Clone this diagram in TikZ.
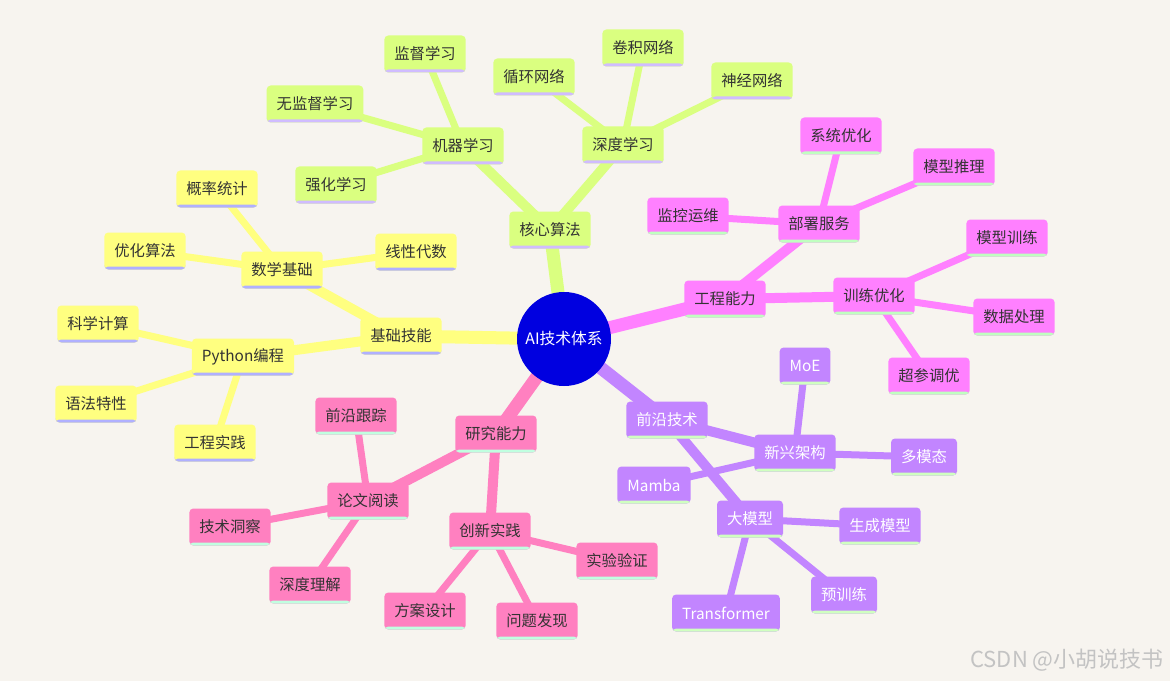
\documentclass[tikz,border=0pt]{standalone}
\usepackage{fontspec}
\setmainfont{Noto Sans CJK SC}
\definecolor{bgcream}{RGB}{247, 244, 239}
\definecolor{rootblue}{RGB}{0, 0, 224}
\definecolor{algogreen}{RGB}{218, 255, 128}
\definecolor{algoline}{RGB}{208, 188, 255}
\definecolor{skillyellow}{RGB}{255, 255, 128}
\definecolor{skillline}{RGB}{176, 176, 255}
\definecolor{engpink}{RGB}{255, 128, 255}
\definecolor{engline}{RGB}{192, 255, 192}
\definecolor{frontpurple}{RGB}{194, 133, 255}
\definecolor{frontline}{RGB}{208, 255, 192}
\definecolor{resrose}{RGB}{255, 128, 192}
\definecolor{resline}{RGB}{192, 255, 224}
\definecolor{inkgray}{RGB}{51, 51, 51}
\definecolor{markgray}{RGB}{195, 195, 195}
\usepackage{tikz}
\usetikzlibrary{backgrounds}

\begin{document}
\begin{tikzpicture}[x=0.75pt, y=-0.75pt,
  mapbox/.style 2 args={rectangle, rounded corners=3pt, fill=#1, text=inkgray,
    font=\fontsize{11.5}{13}\selectfont, inner xsep=7.5pt, inner ysep=0pt,
    minimum height=27.75pt,
    path picture={\fill[#2] (path picture bounding box.south west)
      rectangle ([yshift=2.25pt]path picture bounding box.south east);}},
  algobox/.style={mapbox={algogreen}{algoline}},
  skillbox/.style={mapbox={skillyellow}{skillline}},
  engbox/.style={mapbox={engpink}{engline}},
  frontbox/.style={mapbox={frontpurple}{frontline}, text=white},
  resbox/.style={mapbox={resrose}{resline}},
  trunk/.style={line width=9.75pt},
  limb/.style={line width=7.5pt},
  twig/.style={line width=5.25pt}]

  \useasboundingbox (0, 0) rectangle (1170, 681);

  % Root
  \node[circle, fill=rootblue, minimum size=70.5pt, inner sep=0pt, text=white,
    font=\fontsize{11.8}{13}\selectfont] (root) at (564, 339) {AI技术体系};

  % TOP: Core algorithms
  \node[algobox] (core) at (550, 230) {核心算法};
  \node[algobox] (ml) at (463, 146) {机器学习};
  \node[algobox] (dl) at (623, 145) {深度学习};
  \node[algobox] (supl) at (425, 54) {监督学习};
  \node[algobox] (unsup) at (315, 104) {无监督学习};
  \node[algobox] (rl) at (336, 185) {强化学习};
  \node[algobox] (rnn) at (534, 77) {循环网络};
  \node[algobox] (cnn) at (643, 48) {卷积网络};
  \node[algobox] (nn) at (752, 81) {神经网络};

  % LEFT: Basic skills
  \node[skillbox] (skill) at (401, 336) {基础技能};
  \node[skillbox] (math) at (282, 270) {数学基础};
  \node[skillbox] (py) at (243, 357) {Python编程};
  \node[skillbox] (prob) at (217, 189) {概率统计};
  \node[skillbox] (opt) at (145, 251) {优化算法};
  \node[skillbox] (linalg) at (416, 252) {线性代数};
  \node[skillbox] (sci) at (98, 324) {科学计算};
  \node[skillbox] (syn) at (96, 404) {语法特性};
  \node[skillbox] (prac) at (215, 443) {工程实践};

  % RIGHT: Engineering
  \node[engbox] (eng) at (725, 299) {工程能力};
  \node[engbox] (deploy) at (819, 224) {部署服务};
  \node[engbox] (train) at (874, 296) {训练优化};
  \node[engbox] (sysopt) at (841, 136) {系统优化};
  \node[engbox] (infer) at (954, 167) {模型推理};
  \node[engbox] (monitor) at (688, 216) {监控运维};
  \node[engbox] (mtrain) at (1007, 238) {模型训练};
  \node[engbox] (data) at (1014, 317) {数据处理};
  \node[engbox] (hyper) at (929, 376) {超参调优};

  % BOTTOM RIGHT: Frontier
  \node[frontbox] (front) at (667, 420) {前沿技术};
  \node[frontbox] (arch) at (795, 453) {新兴架构};
  \node[frontbox] (llm) at (750, 519) {大模型};
  \node[frontbox] (moe) at (805, 366) {MoE};
  \node[frontbox] (mm) at (924, 457) {多模态};
  \node[frontbox] (mamba) at (654, 485) {Mamba};
  \node[frontbox] (gen) at (880, 526) {生成模型};
  \node[frontbox] (pretr) at (844, 595) {预训练};
  \node[frontbox] (trans) at (726, 613) {Transformer};

  % BOTTOM LEFT: Research
  \node[resbox] (research) at (496, 434) {研究能力};
  \node[resbox] (paper) at (368, 501) {论文阅读};
  \node[resbox] (innov) at (490, 531) {创新实践};
  \node[resbox] (track) at (356, 416) {前沿跟踪};
  \node[resbox] (insight) at (230, 527) {技术洞察};
  \node[resbox] (deep) at (310, 585) {深度理解};
  \node[resbox] (plan) at (425, 611) {方案设计};
  \node[resbox] (issue) at (537, 621) {问题发现};
  \node[resbox] (verify) at (617, 561) {实验验证};

  \node[text=markgray, font=\fontsize{16.5}{18}\selectfont] (mark) at (1067, 660) {CSDN @小胡说技书};

  \begin{pgfonlayer}{background}
    \fill[bgcream] (0, 0) rectangle (1170, 681);

    % Branches
    \draw[trunk, algogreen] (root.center) -- (core.center);
    \draw[trunk, skillyellow] (root.center) -- (skill.center);
    \draw[trunk, engpink] (root.center) -- (eng.center);
    \draw[trunk, frontpurple] (root.center) -- (front.center);
    \draw[trunk, resrose] (root.center) -- (research.center);

    \draw[limb, algogreen] (core.center) -- (ml.center);
    \draw[limb, algogreen] (core.center) -- (dl.center);
    \draw[limb, skillyellow] (skill.center) -- (math.center);
    \draw[limb, skillyellow] (skill.center) -- (py.center);
    \draw[limb, engpink] (eng.center) -- (deploy.center);
    \draw[limb, engpink] (eng.center) -- (train.center);
    \draw[limb, frontpurple] (front.center) -- (arch.center);
    \draw[limb, frontpurple] (front.center) -- (llm.center);
    \draw[limb, resrose] (research.center) -- (paper.center);
    \draw[limb, resrose] (research.center) -- (innov.center);

    % Leaves
    \foreach \a/\b in {ml/supl, ml/unsup, ml/rl, dl/rnn, dl/cnn, dl/nn}
      \draw[twig, algogreen] (\a.center) -- (\b.center);
    \foreach \a/\b in {math/prob, math/opt, math/linalg, py/sci, py/syn, py/prac}
      \draw[twig, skillyellow] (\a.center) -- (\b.center);
    \foreach \a/\b in {deploy/sysopt, deploy/infer, deploy/monitor, train/mtrain, train/data, train/hyper}
      \draw[twig, engpink] (\a.center) -- (\b.center);
    \foreach \a/\b in {arch/moe, arch/mm, arch/mamba, llm/gen, llm/pretr, llm/trans}
      \draw[twig, frontpurple] (\a.center) -- (\b.center);
    \foreach \a/\b in {paper/track, paper/insight, paper/deep, innov/plan, innov/issue, innov/verify}
      \draw[twig, resrose] (\a.center) -- (\b.center);
  \end{pgfonlayer}
\end{tikzpicture}
\end{document}
